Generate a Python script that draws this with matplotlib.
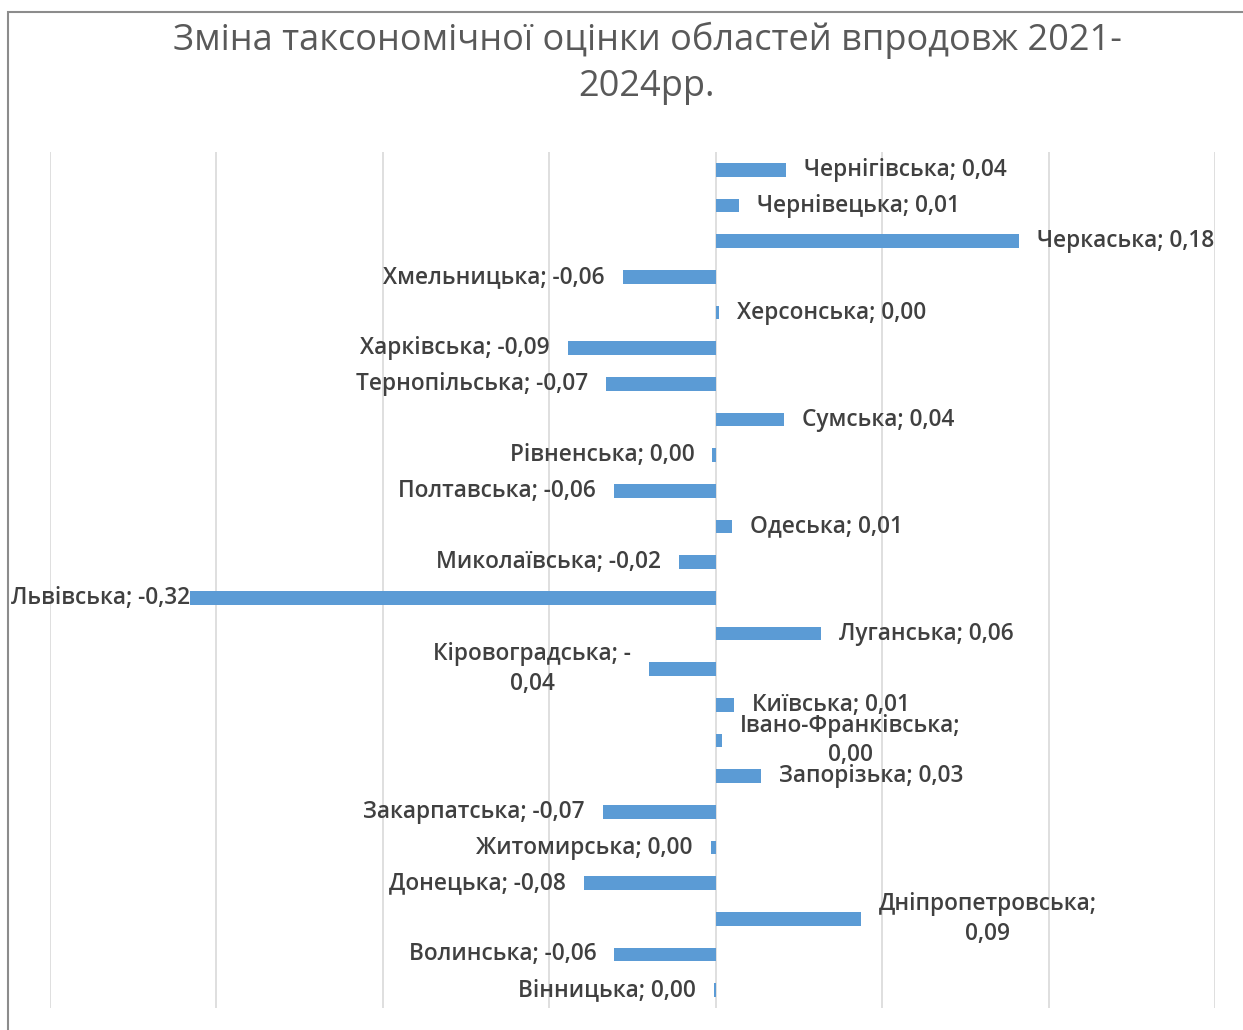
import matplotlib.pyplot as plt
import numpy as np
from matplotlib.patches import Rectangle
from matplotlib.transforms import offset_copy

plt.rcParams['font.family'] = ['Open Sans', 'DejaVu Sans']

# області знизу догори (як у діаграмі Excel)
regions = ['Вінницька', 'Волинська', 'Дніпропетровська', 'Донецька', 'Житомирська',
           'Закарпатська', 'Запорізька', 'Івано-Франківська', 'Київська',
           'Кіровоградська', 'Луганська', 'Львівська', 'Миколаївська', 'Одеська',
           'Полтавська', 'Рівненська', 'Сумська', 'Тернопільська', 'Харківська',
           'Херсонська', 'Хмельницька', 'Черкаська', 'Чернівецька', 'Чернігівська']
changes = [-0.001, -0.061, 0.087, -0.079, -0.003,
           -0.068, 0.027, 0.004, 0.011,
           -0.040, 0.063, -0.316, -0.022, 0.010,
           -0.061, -0.002, 0.041, -0.066, -0.089,
           0.002, -0.056, 0.182, 0.014, 0.042]

# підписи, що переносяться на другий рядок
wrapped = ['Дніпропетровська', 'Івано-Франківська', 'Кіровоградська']

W, H = 1243, 1030
fig = plt.figure(figsize=(W / 100, H / 100), dpi=100)
ax = fig.add_axes([50 / W, 1 - 1008 / H, (1215 - 50) / W, (1008 - 152) / H])

y = np.arange(len(regions))
ax.barh(y, changes, height=0.39, color='#5b9bd5', zorder=3)
ax.set_xlim(-0.4, 0.3)
ax.set_ylim(-0.5, len(regions) - 0.5)
ax.set_xticks(np.arange(-0.4, 0.31, 0.1))
ax.set_yticks([])
ax.grid(axis='x', color='#d9d9d9', lw=1.2, zorder=0)
ax.tick_params(length=0, labelbottom=False)
for s in ax.spines.values():
    s.set_visible(False)


def fmt(v):
    s = f"{abs(v):.2f}".replace('.', ',')
    return s


for yi, name, v in zip(y, regions, changes):
    neg = v < 0 and round(v, 2) != 0
    if name in wrapped:
        text = f"{name};{' -' if neg else ''}\n{fmt(v)}"
    else:
        text = f"{name}; {'-' if neg else ''}{fmt(v)}"
    left = v < 0
    dx = -18 if left else 18
    if name == 'Львівська':
        dx = 0
    tr = offset_copy(ax.transData, fig=fig, x=dx, y=0, units='dots')
    ax.text(v, yi, text, transform=tr, ha='right' if left else 'left', va='center',
            multialignment='center', fontsize=16.3, fontweight='semibold', color='#404040',
            linespacing=1.3, clip_on=False, zorder=4)

fig.text(647 / W, 1 - 40 / H, 'Зміна таксономічної оцінки областей впродовж 2021-',
         ha='center', va='center', fontsize=26, color='#595959')
fig.text(647 / W, 1 - 87 / H, '2024рр.',
         ha='center', va='center', fontsize=26, color='#595959')

# рамка області діаграми
fig.add_artist(Rectangle((8 / W, -0.1), 1.2, 1.1 - 12 / H, transform=fig.transFigure,
                         fill=False, ec='#8c8c8c', lw=1.5))

fig.savefig('out.png', dpi=100, facecolor='white')
